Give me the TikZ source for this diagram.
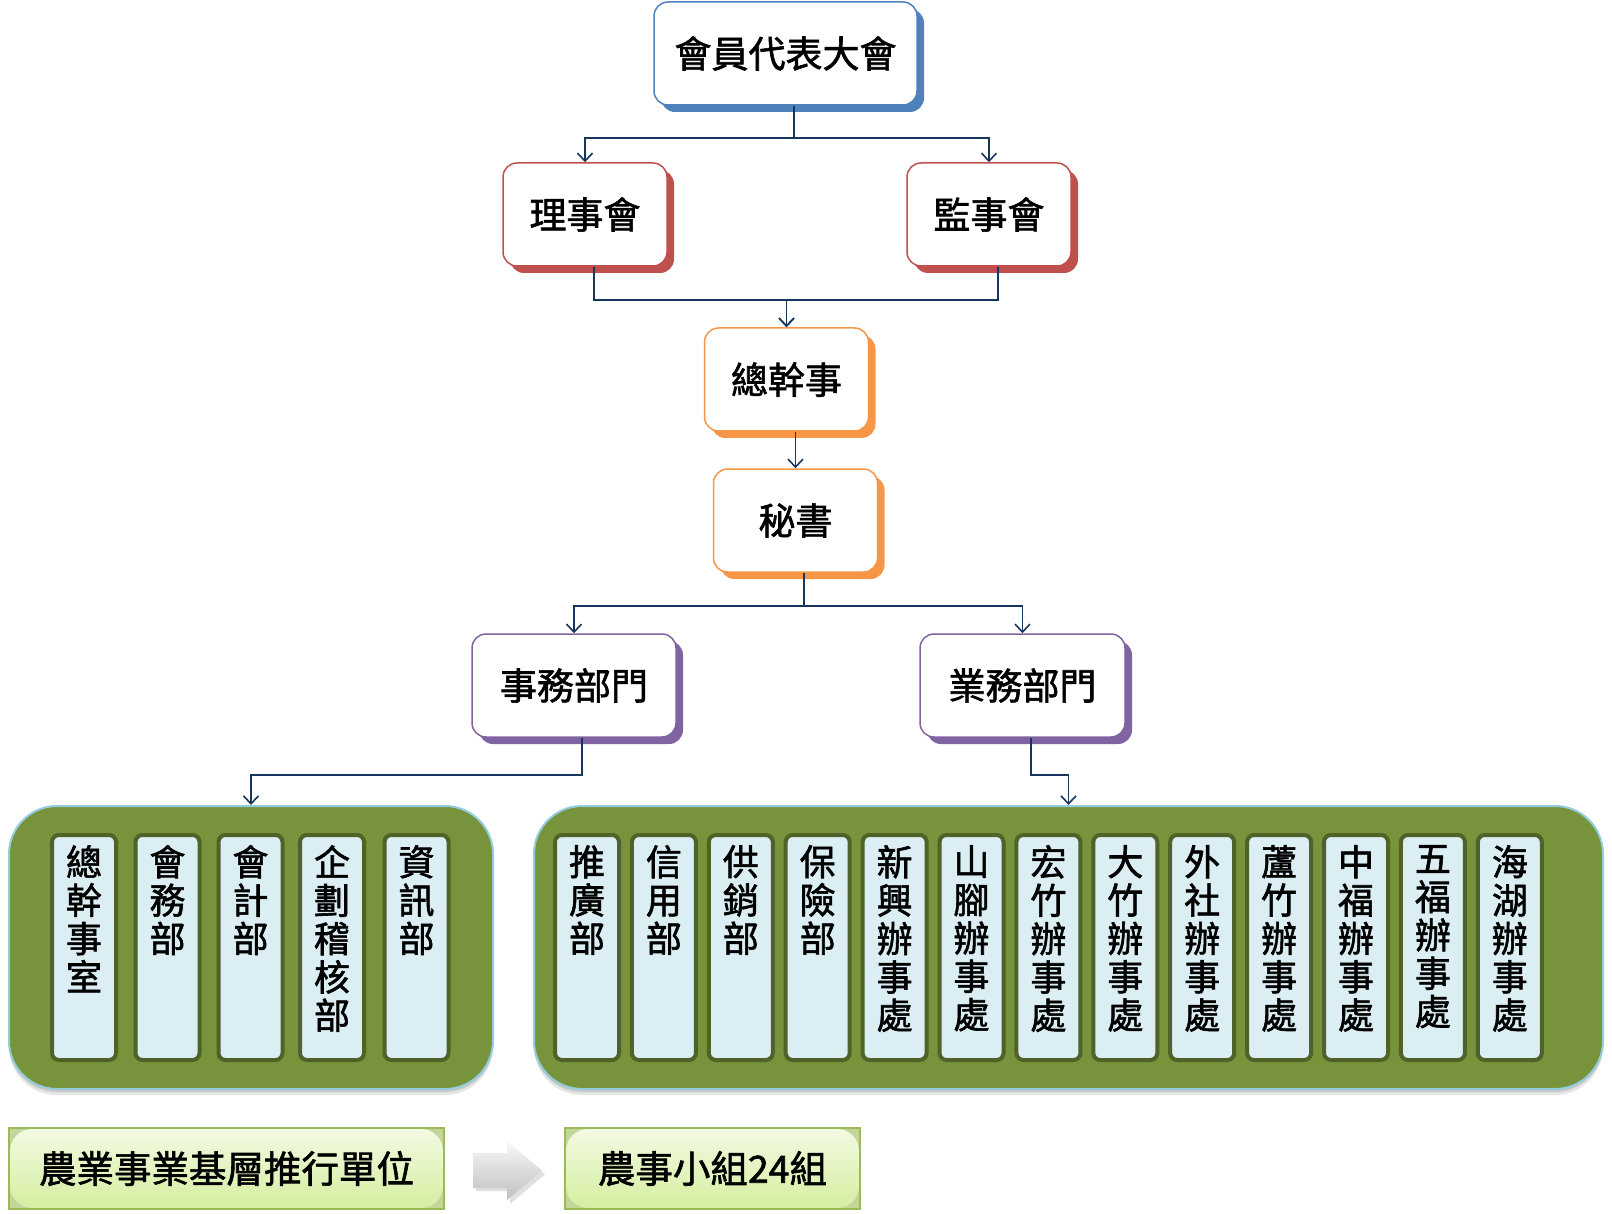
\documentclass[tikz,border=0pt]{standalone}
\usepackage{fontspec}
\newfontfamily\cjk{Noto Sans CJK TC}[FakeBold=1.6]
\usetikzlibrary{arrows.meta,shadows}
\definecolor{navy}{HTML}{17365D}
\definecolor{cblue}{HTML}{4F81BD}
\definecolor{cred}{HTML}{C0504D}
\definecolor{corange}{HTML}{F79646}
\definecolor{cpurple}{HTML}{8064A2}
\definecolor{panelfill}{HTML}{77933C}
\definecolor{panelline}{HTML}{93CDDD}
\definecolor{colline}{HTML}{4F6228}
\definecolor{colfill}{HTML}{DBEEF4}
\definecolor{bline}{HTML}{9BBB59}
\definecolor{bcorner}{HTML}{C3D69B}
\definecolor{btop}{HTML}{F3FAE3}
\definecolor{bbot}{HTML}{D4EE9F}
\begin{document}
\begin{tikzpicture}[x=1pt,y=-1pt,
  orgbox/.style={draw=#1, line width=1.5pt, fill=white, rounded corners=14pt,
    minimum width=164pt, minimum height=103pt, inner sep=0pt,
    font=\cjk\fontsize{37}{40}\selectfont,
    drop shadow={shadow xshift=7pt,shadow yshift=-7pt,fill=#1,opacity=1}},
  conn/.style={draw=navy, line width=1.6pt, -{Straight Barb[length=8pt,width=15pt]}},
  panel/.style={draw=panelline, line width=2pt, fill=panelfill, rounded corners=48pt,
    minimum height=283pt, inner sep=0pt,
    drop shadow={shadow xshift=0pt,shadow yshift=-6pt,fill=black,opacity=0.10},
    drop shadow={shadow xshift=0pt,shadow yshift=-3pt,fill=black,opacity=0.12}},
  colbox/.style={draw=colline, line width=4pt, fill=colfill, rounded corners=7pt,
    minimum width=64pt, minimum height=225pt, inner sep=0pt},
  coltext/.style={anchor=north, inner sep=0pt, align=center,
    font=\cjk\fontsize{36}{38.3}\selectfont},
  bottombox/.style={draw=bline, line width=2pt, fill=bcorner, minimum height=81pt, inner sep=0pt,
    font=\cjk\fontsize{37.5}{40}\selectfont,
    path picture={\shade[top color=btop, bottom color=bbot, rounded corners=22pt]
      ([shift={(1pt,1pt)}]path picture bounding box.south west) rectangle
      ([shift={(-1pt,-1pt)}]path picture bounding box.north east);}},
  grarrow/.style={top color=gray!5, bottom color=gray!50, draw=none}
]
\useasboundingbox (0,0) rectangle (1612,1214);

% panels
\node[panel, minimum width=484pt] (lp) at (251,947.5) {};
\node[panel, minimum width=1069pt] (rp) at (1068.5,947.5) {};

% left columns
\foreach \n/\x/\t in {l1/84/{總\\幹\\事\\室}, l2/167.5/{會\\務\\部}, l3/250.5/{會\\計\\部},
                      l4/332/{企\\劃\\稽\\核\\部}, l5/416.5/{資\\訊\\部}}{
  \node[colbox] (\n) at (\x,947.5) {};
  \node[coltext] at ([yshift=-12pt]\n.north) {\t};
}
% right columns
\foreach \i/\t in {0/{推\\廣\\部}, 1/{信\\用\\部}, 2/{供\\銷\\部}, 3/{保\\險\\部},
                   4/{新\\興\\辦\\事\\處}, 5/{山\\腳\\辦\\事\\處}, 6/{宏\\竹\\辦\\事\\處},
                   7/{大\\竹\\辦\\事\\處}, 8/{外\\社\\辦\\事\\處}, 9/{蘆\\竹\\辦\\事\\處},
                   10/{中\\福\\辦\\事\\處}, 11/{五\\福\\辦\\事\\處}, 12/{海\\湖\\辦\\事\\處}}{
  \node[colbox] (r\i) at ({587+76.9*\i},947.5) {};
  \node[coltext] at ([yshift=-12pt]r\i.north) {\t};
}

% org boxes
\node[orgbox=cblue, minimum width=263pt] (top) at (785.5,53.5) {會員代表大會};
\node[orgbox=cred] (li) at (585,214.5) {理事會};
\node[orgbox=cred] (jian) at (989,214.5) {監事會};
\node[orgbox=corange] (zg) at (786.5,379.5) {總幹事};
\node[orgbox=corange] (ms) at (795.5,520.5) {秘書};
\node[orgbox=cpurple, minimum width=204pt] (sw) at (574,685.5) {事務部門};
\node[orgbox=cpurple, minimum width=205pt] (yw) at (1022.5,685.5) {業務部門};

% connectors
\draw[conn] ([xshift=8.5pt]top.south) -- ++(0,32) -| (li.north);
\draw[conn] ([xshift=8.5pt]top.south) -- ++(0,32) -| (jian.north);
\draw[conn] ([xshift=9pt]li.south) -- ++(0,33) -| (zg.north);
\draw[conn] ([xshift=9pt]jian.south) -- ++(0,33) -| (zg.north);
\draw[conn] (ms.north |- zg.south) -- (ms.north);
\draw[conn] ([xshift=8.5pt]ms.south) -- ++(0,33) -| (sw.north);
\draw[conn] ([xshift=8.5pt]ms.south) -- ++(0,33) -| (yw.north);
\draw[conn] ([xshift=8pt]sw.south) -- ++(0,37) -| (lp.north);
\draw[conn] ([xshift=8.5pt]yw.south) -- ++(0,37) -| (rp.north);

% bottom row
\node[bottombox, minimum width=435pt] (b1) at (226.5,1168.5) {農業事業基層推行單位};
\fill[black, opacity=0.12] (476,1157) -- (510,1157) -- (510,1145) -- (545,1174.5)
  -- (510,1204) -- (510,1191) -- (476,1191) -- cycle;
\shade[grarrow] (473,1153) -- (507,1153) -- (507,1141) -- (542,1170.5)
  -- (507,1200) -- (507,1188) -- (473,1188) -- cycle;
\node[bottombox, minimum width=295pt] (b2) at (712.5,1168.5) {農事小組24組};
\end{tikzpicture}
\end{document}
